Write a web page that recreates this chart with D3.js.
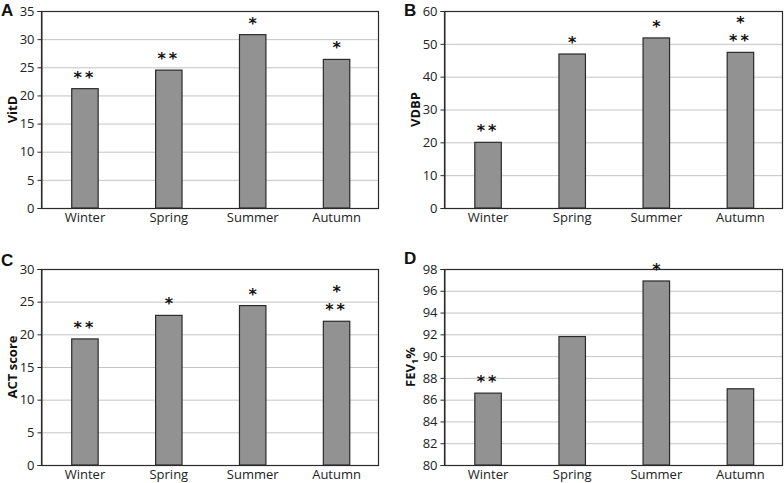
<!DOCTYPE html>
<html><head><meta charset="utf-8">
<script src="https://cdn.jsdelivr.net/npm/d3@7"></script>
<style>body{margin:0;background:#fff}svg{display:block}</style>
</head><body>
<svg id="c" width="784" height="483"></svg>
<script>
const seasons = ["Winter", "Spring", "Summer", "Autumn"];
const vitD = [21.2, 24.5, 30.8, 26.4];
const vdbp = [20.0, 46.9, 51.8, 47.4];
const act = [19.3, 22.9, 24.4, 22.0];
const fev1 = [86.6, 91.8, 96.9, 87.0];
const vitDMarks = [["**"], ["**"], ["*"], ["*"]];
const vdbpMarks = [["**"], ["*"], ["*"], ["**", "*"]];
const actMarks = [["**"], ["*"], ["*"], ["**", "*"]];
const fevMarks = [["**"], [], ["*"], []];
const vitDTicks = [0, 5, 10, 15, 20, 25, 30, 35];
const vdbpTicks = [0, 10, 20, 30, 40, 50, 60];
const actTicks = [0, 5, 10, 15, 20, 25, 30];
const fevTicks = [80, 82, 84, 86, 88, 90, 92, 94, 96, 98];

const svg = d3.select("#c");
const FONT = "'Open Sans', sans-serif";

const panels = [
  {letter: "A", label: "VitD", values: vitD, marks: vitDMarks, ticks: vitDTicks,
   x0: 41, x1: 379, y0: 11, y1: 208, lx: 1, labX: 12, letterY: 16},
  {letter: "B", label: "VDBP", values: vdbp, marks: vdbpMarks, ticks: vdbpTicks,
   x0: 444, x1: 783, y0: 11, y1: 208, lx: 404, labX: 415, letterY: 16},
  {letter: "C", label: "ACT score", values: act, marks: actMarks, ticks: actTicks,
   x0: 41, x1: 379, y0: 269, y1: 465, lx: 1, labX: 12, letterY: 266},
  {letter: "D", label: "FEV", sub: "1", suffix: "%", values: fev1, marks: fevMarks, ticks: fevTicks,
   x0: 444, x1: 783, y0: 269, y1: 465, lx: 404, labX: 410, letterY: 264}
];

panels.forEach(p => {
  const g = svg.append("g");
  const x = d3.scaleBand().domain(seasons).range([p.x0 + 2, p.x1 - 0.5])
    .paddingInner(0.685).paddingOuter(0.3425);
  const y = d3.scaleLinear().domain([p.ticks[0], p.ticks[p.ticks.length - 1]]).range([p.y1, p.y0]);

  // gridlines
  g.append("g").selectAll("line").data(p.ticks.slice(1, -1)).join("line")
    .attr("x1", p.x0).attr("x2", p.x1)
    .attr("y1", d => y(d) + 0.5).attr("y2", d => y(d) + 0.5)
    .attr("stroke", "#c4c4c4").attr("stroke-width", 1);

  // frame
  g.append("rect").attr("x", p.x0 + 0.5).attr("y", y.range()[1] + 0.5)
    .attr("width", p.x1 - p.x0 - 1).attr("height", p.y1 - p.y0)
    .attr("fill", "none").attr("stroke", "#2a2a2a").attr("stroke-width", 1.2);

  // bars
  g.append("g").selectAll("rect").data(p.values).join("rect")
    .attr("x", (d, i) => x(seasons[i]))
    .attr("y", d => y(d))
    .attr("width", x.bandwidth())
    .attr("height", d => y(p.ticks[0]) - y(d))
    .attr("fill", "#929292").attr("stroke", "#2a2a2a").attr("stroke-width", 1.2);

  // y axis
  const ya = g.append("g").attr("transform", `translate(${p.x0 + 0.5},0)`)
    .call(d3.axisLeft(y).tickValues(p.ticks).tickSize(4).tickPadding(3).tickFormat(d3.format("d")));
  ya.select(".domain").attr("stroke", "#2a2a2a");
  ya.selectAll(".tick line").attr("stroke", "#2a2a2a");
  ya.selectAll("text").attr("font-family", FONT).attr("font-size", 13).attr("fill", "#222");

  // x axis
  const xa = g.append("g").attr("transform", `translate(0,${p.y1})`)
    .call(d3.axisBottom(x).tickSize(0).tickPadding(5));
  xa.select(".domain").remove();
  xa.selectAll("text").attr("font-family", FONT).attr("font-size", 13).attr("fill", "#222");

  // significance marks
  p.values.forEach((v, i) => {
    p.marks[i].forEach((m, k) => {
      g.append("text")
        .attr("x", x(seasons[i]) + x.bandwidth() / 2)
        .attr("y", y(v) - 6 - 18 * k)
        .attr("text-anchor", "middle")
        .attr("font-family", "'DejaVu Sans', sans-serif")
        .attr("font-size", 16)
        .attr("font-weight", "bold")
        .attr("letter-spacing", m.length > 1 ? 3 : 0)
        .attr("fill", "#111")
        .text(m);
    });
  });

  // y label
  const cy = (p.y0 + p.y1) / 2;
  const t = g.append("text")
    .attr("transform", `translate(${p.labX + 5},${cy}) rotate(-90)`)
    .attr("text-anchor", "middle")
    .attr("font-family", FONT).attr("font-size", 13).attr("font-weight", "bold").attr("fill", "#111");
  t.append("tspan").text(p.label);
  if (p.sub) {
    t.append("tspan").attr("font-size", 9).attr("dy", 3).text(p.sub);
    t.append("tspan").attr("dy", -3).text(p.suffix);
  }

  // panel letter
  g.append("text").attr("x", p.lx).attr("y", p.letterY)
    .attr("font-family", "'Liberation Sans', sans-serif").attr("font-size", 17).attr("font-weight", "bold").attr("fill", "#111")
    .text(p.letter);
});
</script>
</body></html>
